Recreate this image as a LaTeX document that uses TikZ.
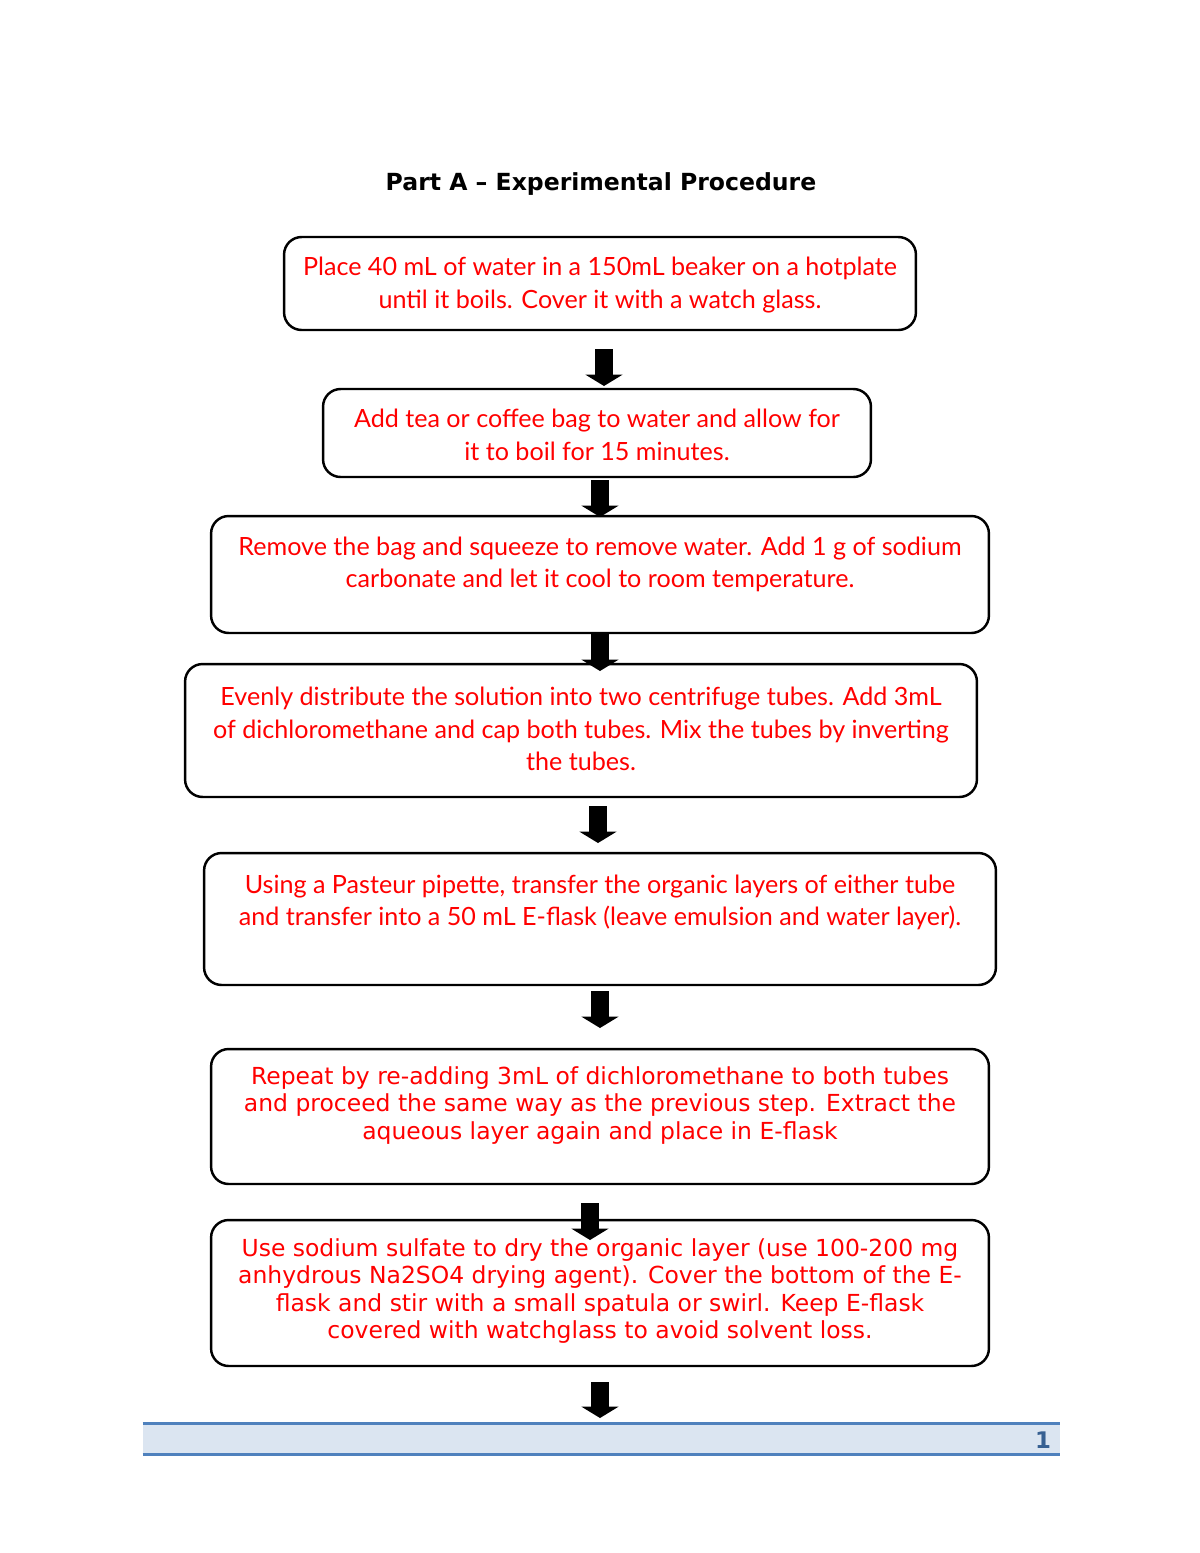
\documentclass[tikz,border=0pt]{standalone}
\usepackage{fontspec}
\setmainfont{DejaVu Sans}
\newfontfamily\handfont{Lato}
\usetikzlibrary{arrows.meta}

\definecolor{bandfill}{HTML}{DBE5F1}
\definecolor{bandline}{HTML}{4F81BD}
\definecolor{pagenumcol}{HTML}{376092}

\tikzset{%
  stepbox/.style={
    draw,
    line width=1.4pt,
    rounded corners=10pt,
    inner sep=0pt
  },
  step text/.style={
    text=red,
    align=center,
    font=\handfont\fontsize{14.3}{18.4}\selectfont
  },
  step text plain/.style={
    text=red,
    align=center,
    font=\fontsize{13.35}{15.6}\selectfont
  },
  flow/.style={
    line width=10.8pt,
    -{Triangle[width=21pt,length=6.5pt]}
  },
}

\begin{document}
\begin{tikzpicture}[x=0.02cm, y=-0.02cm]
\useasboundingbox (0,0) rectangle (1200,1553);

\node [font=\bfseries\fontsize{13.4}{16}\selectfont] (title) at (601,184)
  {Part A -- Experimental Procedure};

% boxes
\node [stepbox, minimum width=12.64cm, minimum height=1.86cm] (box1) at (600,283.5) {};
\node [stepbox, minimum width=10.96cm, minimum height=1.76cm] (box2) at (597,433) {};
\node [stepbox, minimum width=15.56cm, minimum height=2.34cm] (box3) at (600,574.5) {};
\node [stepbox, minimum width=15.84cm, minimum height=2.66cm] (box4) at (581,730.5) {};
\node [stepbox, minimum width=15.84cm, minimum height=2.64cm] (box5) at (600,919) {};
\node [stepbox, minimum width=15.56cm, minimum height=2.70cm] (box6) at (600,1116.5) {};
\node [stepbox, minimum width=15.56cm, minimum height=2.92cm] (box7) at (600,1293) {};

% texts
\node [step text] (text1) at (600,285)
  {Place 40 mL of water in a 150mL beaker on a hotplate\\
   until it boils. Cover it with a watch glass.};
\node [step text] (text2) at (597,435)
  {Add tea or coffee bag to water and allow for\\
   it to boil for 15 minutes.};
\node [step text] (text3) at (600,564.5)
  {Remove the bag and squeeze to remove water. Add 1 g of sodium\\
   carbonate and let it cool to room temperature.};
\node [step text] (text4) at (581,729)
  {Evenly distribute the solution into two centrifuge tubes. Add 3mL\\
   of dichloromethane and cap both tubes. Mix the tubes by inverting\\
   the tubes.};
\node [step text] (text5) at (600,902.5)
  {Using a Pasteur pipette, transfer the organic layers of either tube\\
   and transfer into a 50 mL E-flask (leave emulsion and water layer).};
\node [step text plain] (text6) at (600,1105.5)
  {Repeat by re-adding 3mL of dichloromethane to both tubes\\
   and proceed the same way as the previous step. Extract the\\
   aqueous layer again and place in E-flask};
\node [step text plain] (text7) at (600,1291)
  {Use sodium sulfate to dry the organic layer (use 100-200 mg\\
   anhydrous Na2SO4 drying agent). Cover the bottom of the E-\\
   flask and stir with a small spatula or swirl. Keep E-flask\\
   covered with watchglass to avoid solvent loss.};

% arrows
\foreach \n/\x/\s/\e in {1/604/349/386, 2/600/480/517, 3/600/633/671,
                         4/598/806/843, 5/600/991/1028, 6/590/1203/1240,
                         7/600/1382/1418} {
  \coordinate (arrow\n-start) at (\x,\s);
  \coordinate (arrow\n-end) at (\x,\e);
  \draw [flow] (arrow\n-start) -- (arrow\n-end);
}

% footer
\node [fill=bandfill, minimum width=18.34cm, minimum height=0.6cm, inner sep=0pt]
  (band) at (601.5,1439) {};
\draw [bandline, line width=1.6pt] (band.north west) -- (band.north east);
\draw [bandline, line width=1.6pt] (band.south west) -- (band.south east);
\node [text=pagenumcol, font=\bfseries\fontsize{13}{15}\selectfont] (pagenum) at (1043,1440) {1};

\end{tikzpicture}
\end{document}
